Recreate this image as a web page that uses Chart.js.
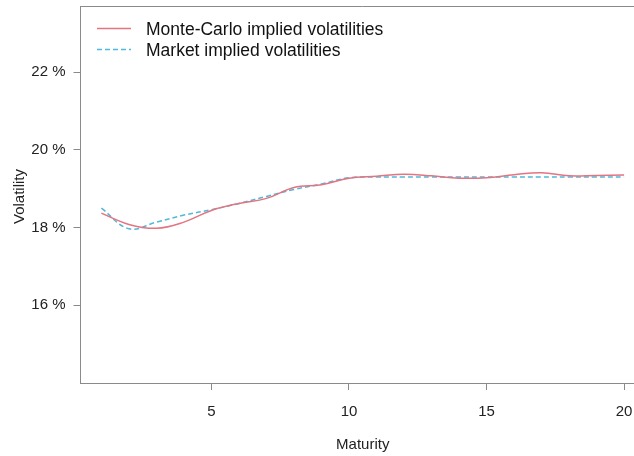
<!DOCTYPE html>
<html>
<head>
<meta charset="utf-8">
<script src="https://cdn.jsdelivr.net/npm/chart.js@4/dist/chart.umd.min.js"></script>
<style>
  html, body { margin: 0; padding: 0; background: #fff; overflow: hidden; }
  #wrap { width: 634px; height: 456px; overflow: hidden; position: relative; }
  #c { position: absolute; left: 0; top: -11px; }
</style>
</head>
<body>
<div id="wrap"><canvas id="c" width="680" height="467"></canvas></div>
<script>
// Maturities (years)
const maturities = [1, 2, 3, 4, 5, 6, 7, 8, 9, 10, 11, 12, 13, 14, 15, 16, 17, 18, 19, 20];
// Implied volatilities in percent
const monteCarloVols = [18.37, 18.08, 17.98, 18.14, 18.44, 18.62, 18.75, 19.03, 19.10, 19.27,
                        19.32, 19.37, 19.33, 19.27, 19.28, 19.36, 19.41, 19.33, 19.34, 19.35];
const marketVols     = [18.50, 17.97, 18.14, 18.32, 18.46, 18.62, 18.80, 18.98, 19.12, 19.28,
                        19.30, 19.30, 19.30, 19.30, 19.30, 19.30, 19.30, 19.30, 19.30, 19.30];
const xTicks = [5, 10, 15, 20];
const yTicks = [16, 18, 20, 22];
const seriesNames = ['Monte-Carlo implied volatilities', 'Market implied volatilities'];

const RED = '#e27581';
const BLUE = '#52b8d8';
const AXIS = '#8a8a8a';
const FONT = '"Liberation Sans", Arial, sans-serif';
const OFFSET = 11; // canvas sits 11px above the page top

const toPoints = (xs, ys) => xs.map((x, i) => ({ x: x, y: ys[i] }));

// Top frame line, axis titles and legend
const frame = {
  id: 'frame',
  afterDraw(chart) {
    const { ctx, chartArea: a } = chart;
    ctx.save();
    ctx.strokeStyle = AXIS;
    ctx.lineWidth = 1;
    ctx.beginPath();
    ctx.moveTo(a.left, a.top + 0.5);
    ctx.lineTo(a.right, a.top + 0.5);
    ctx.stroke();

    ctx.fillStyle = '#222';
    ctx.font = '15px ' + FONT;
    ctx.textAlign = 'center';
    ctx.textBaseline = 'middle';
    ctx.fillText('Maturity', (a.left + a.right) / 2, 445 + OFFSET);
    ctx.save();
    ctx.translate(20, (a.top + a.bottom) / 2 + 2);
    ctx.rotate(-Math.PI / 2);
    ctx.fillText('Volatility', 0, 0);
    ctx.restore();

    // legend
    ctx.font = '17.5px ' + FONT;
    ctx.textAlign = 'left';
    const rows = [
      { y: 28.5 + OFFSET, color: RED, dash: [] },
      { y: 49.5 + OFFSET, color: BLUE, dash: [5, 3] }
    ];
    rows.forEach((r, i) => {
      ctx.strokeStyle = r.color;
      ctx.lineWidth = 1.5;
      ctx.setLineDash(r.dash);
      ctx.beginPath();
      ctx.moveTo(97, r.y);
      ctx.lineTo(131, r.y);
      ctx.stroke();
      ctx.setLineDash([]);
      ctx.fillStyle = '#111';
      ctx.fillText(seriesNames[i], 146, r.y + 1.5);
    });
    ctx.restore();
  }
};

new Chart(document.getElementById('c'), {
  type: 'line',
  data: {
    datasets: [
      {
        label: seriesNames[0],
        data: toPoints(maturities, monteCarloVols),
        borderColor: RED,
        borderWidth: 1.5,
        pointRadius: 0,
        tension: 0.4,
        fill: false
      },
      {
        label: seriesNames[1],
        data: toPoints(maturities, marketVols),
        borderColor: BLUE,
        borderWidth: 1.5,
        borderDash: [5, 3],
        pointRadius: 0,
        tension: 0.4,
        fill: false
      }
    ]
  },
  options: {
    responsive: false,
    animation: false,
    devicePixelRatio: 1,
    layout: { padding: { left: 0, right: 35, top: 0, bottom: 0 } },
    plugins: { legend: { display: false }, tooltip: { enabled: false } },
    scales: {
      x: {
        type: 'linear',
        min: 0.24,
        max: 20.76,
        afterBuildTicks: s => { s.ticks = xTicks.map(v => ({ value: v })); },
        afterFit: s => { s.height = 73; },
        border: { display: true, color: AXIS, width: 1 },
        grid: { drawOnChartArea: false, drawTicks: true, tickLength: 7, color: AXIS },
        ticks: {
          color: '#222',
          font: { family: FONT, size: 15 },
          padding: 13,
          maxRotation: 0,
          callback: v => String(v)
        }
      },
      y: {
        type: 'linear',
        min: 14.0,
        max: 23.7,
        afterBuildTicks: s => { s.ticks = yTicks.map(v => ({ value: v })); },
        afterFit: s => { s.width = 80.5; },
        border: { display: true, color: AXIS, width: 1 },
        grid: { drawOnChartArea: false, drawTicks: true, tickLength: 7, color: AXIS },
        ticks: {
          color: '#222',
          font: { family: FONT, size: 15 },
          padding: 8,
          callback: v => v + ' %'
        }
      }
    }
  },
  plugins: [frame]
});
</script>
</body>
</html>
